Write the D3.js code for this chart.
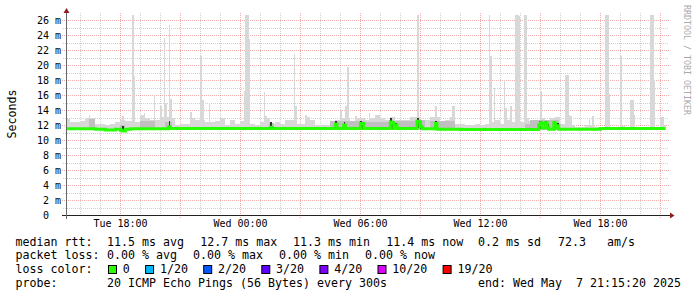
<!DOCTYPE html>
<html>
<head>
<meta charset="utf-8">
<script src="https://cdn.jsdelivr.net/npm/d3@7"></script>
<style>
  body { margin: 0; background: #fff; }
  svg text { font-family: "DejaVu Sans Mono", monospace; white-space: pre; }
</style>
</head>
<body>
<div id="chart"></div>
<script>
var width = 697, height = 297;

var startTime = new Date(2025, 4, 6, 15, 15, 20);
var endTime = new Date(2025, 4, 7, 21, 15, 20);
var parseT = d3.timeParse('%Y-%m-%d %H:%M');
function t(s) { return parseT('2025-' + s); }

// upper edge of the normal smoke, one value per 15 min starting 15:15
var smokeTop = [
  12.8, 12.4, 12.4, 12.6, 13.0, 12.9, 12.2, 12.1, 12.0, 12.2, 12.4, 12.7,
  12.6, 12.6, 12.4, 13.3, 12.9, 12.7, 12.7, 13.1, 13.1, 12.9, 12.0, 12.2,
  12.2, 13.0, 12.7, 12.7, 12.4, 12.4, 12.6, 12.9, 12.0, 12.7, 12.2, 12.6,
  12.2, 12.2, 12.0, 12.4, 12.9, 12.2, 12.4, 12.2, 12.7, 12.7, 12.2, 12.2,
  13.1, 12.7, 12.0, 12.0, 12.0, 12.2, 12.7, 13.0, 12.9, 12.4, 12.9, 12.9,
  12.7, 12.9, 13.3, 12.9, 12.7, 13.1, 12.7, 12.7, 12.7, 13.1, 13.1, 12.7,
  12.7, 13.1, 13.1, 12.2, 12.7, 13.1, 12.2, 12.2, 12.0, 12.0, 12.2, 12.0,
  12.2, 12.4, 12.7, 12.2, 12.7, 12.4, 12.6, 12.4, 12.6, 12.2, 12.4, 12.9,
  12.6, 12.9, 13.1, 12.2, 12.0, 12.0, 11.8, 11.8, 12.0, 12.0, 11.8, 11.8,
  11.9, 11.8, 11.8, 11.9, 11.8, 12.0, 11.8, 11.8, 11.8, 11.9, 11.8, 12.0
];
var smokeFloor = 11.3;

// medium grey smoke: [from, to, top ms]
var midSmoke = [
  ['05-06 16:25', '05-06 16:45', 12.8],
  ['05-06 18:00', '05-06 18:15', 12.0],
  ['05-06 19:00', '05-06 19:45', 12.6],
  ['05-06 20:15', '05-06 20:35', 12.4],
  ['05-07 01:25', '05-07 01:40', 12.3],
  ['05-07 04:30', '05-07 06:15', 12.5],
  ['05-07 06:15', '05-07 07:30', 12.4],
  ['05-07 07:30', '05-07 08:45', 12.5],
  ['05-07 08:45', '05-07 09:15', 12.7],
  ['05-07 09:30', '05-07 10:45', 12.5],
  ['05-07 14:15', '05-07 14:30', 12.2],
  ['05-07 14:30', '05-07 15:55', 12.7]
];

// max ping of single 5 min samples that stick out of the smoke
var spikes = [
  ['05-06 16:25', 13.3], ['05-06 18:05', 13.2], ['05-06 18:35', 26.7], ['05-06 18:40', 18.5],
  ['05-06 19:10', 13.6], ['05-06 19:40', 16.0], ['05-06 20:00', 14.6], ['05-06 20:10', 23.6],
  ['05-06 20:15', 15.0], ['05-06 20:25', 25.4], ['05-06 20:30', 15.5], ['05-06 21:30', 13.8],
  ['05-06 22:00', 21.2], ['05-06 22:05', 15.4], ['05-06 22:25', 15.0],
  ['05-07 00:10', 16.5], ['05-07 00:15', 26.7], ['05-07 00:20', 26.7], ['05-07 00:25', 23.5],
  ['05-07 01:10', 16.4], ['05-07 01:15', 13.2], ['05-07 02:40', 21.5], ['05-07 02:45', 14.5],
  ['05-07 03:15', 13.4], ['05-07 05:00', 14.0], ['05-07 05:15', 14.5], ['05-07 05:20', 19.8],
  ['05-07 05:45', 13.2], ['05-07 06:25', 13.6], ['05-07 06:50', 13.4], ['05-07 08:50', 26.7],
  ['05-07 09:45', 14.6], ['05-07 10:35', 14.5], ['05-07 10:40', 14.5], ['05-07 12:25', 26.7],
  ['05-07 12:30', 21.2], ['05-07 12:40', 17.0], ['05-07 13:10', 18.0], ['05-07 13:15', 14.3],
  ['05-07 13:30', 14.5], ['05-07 13:45', 26.7], ['05-07 13:50', 26.7], ['05-07 13:55', 26.5],
  ['05-07 14:10', 26.7], ['05-07 14:15', 26.7], ['05-07 14:20', 12.9], ['05-07 15:00', 16.6],
  ['05-07 15:05', 13.0], ['05-07 16:15', 18.7], ['05-07 16:20', 18.7], ['05-07 16:25', 13.4],
  ['05-07 16:30', 13.2], ['05-07 17:25', 13.0], ['05-07 17:35', 13.2], ['05-07 18:15', 26.7],
  ['05-07 18:20', 26.7], ['05-07 18:25', 16.1], ['05-07 19:00', 21.2], ['05-07 19:30', 15.3],
  ['05-07 19:35', 15.3], ['05-07 19:40', 13.3], ['05-07 20:30', 26.7], ['05-07 20:35', 26.7],
  ['05-07 20:40', 18.0], ['05-07 21:00', 13.1], ['05-07 21:05', 13.1]
];

// dense (dark) smoke of single samples: [time, low, high]
var darkSmoke = [
  ['05-06 18:05', 11.2, 11.9], ['05-06 20:25', 11.6, 12.5], ['05-07 01:30', 11.6, 12.4],
  ['05-07 04:45', 11.5, 12.6], ['05-07 05:10', 11.5, 12.4], ['05-07 06:00', 11.5, 12.5],
  ['05-07 06:05', 11.5, 12.3], ['05-07 07:30', 11.5, 13.0], ['05-07 07:35', 11.5, 12.6],
  ['05-07 07:45', 11.5, 12.3], ['05-07 08:50', 11.6, 12.9], ['05-07 08:55', 11.6, 12.7],
  ['05-07 09:00', 11.5, 12.2], ['05-07 09:45', 11.5, 12.5], ['05-07 14:55', 11.5, 12.5],
  ['05-07 15:00', 11.5, 12.6], ['05-07 15:15', 11.5, 12.5], ['05-07 15:20', 11.5, 12.2],
  ['05-07 15:40', 11.5, 12.5], ['05-07 15:50', 11.5, 12.3]
];

// median rtt, value holds until the next entry
var median = [
  ['05-06 15:15', 11.5], ['05-06 16:45', 11.45], ['05-06 17:15', 11.35], ['05-06 17:45', 11.45],
  ['05-06 18:00', 11.3], ['05-06 18:05', 11.2], ['05-06 18:15', 11.45], ['05-06 18:30', 11.5],
  ['05-06 20:25', 11.75], ['05-06 20:30', 11.55], ['05-07 01:30', 11.7], ['05-07 01:35', 11.55],
  ['05-07 04:45', 12.1], ['05-07 04:50', 11.55], ['05-07 05:10', 12.0], ['05-07 05:15', 11.55],
  ['05-07 06:00', 12.2], ['05-07 06:10', 11.55], ['05-07 07:30', 12.4], ['05-07 07:35', 12.3],
  ['05-07 07:40', 11.55], ['05-07 07:45', 12.0], ['05-07 07:50', 11.55], ['05-07 08:50', 12.5],
  ['05-07 08:55', 12.4], ['05-07 09:00', 11.8], ['05-07 09:05', 11.5], ['05-07 09:45', 12.2],
  ['05-07 09:50', 11.45], ['05-07 11:00', 11.4], ['05-07 14:55', 12.0], ['05-07 15:00', 12.3],
  ['05-07 15:05', 11.6], ['05-07 15:15', 12.3], ['05-07 15:20', 11.7], ['05-07 15:25', 11.45],
  ['05-07 15:40', 12.3], ['05-07 15:45', 11.6], ['05-07 15:50', 11.9], ['05-07 15:55', 11.45],
  ['05-07 18:00', 11.55], ['05-07 21:15', 11.55]
];

var yTicks = [0, 2, 4, 6, 8, 10, 12, 14, 16, 18, 20, 22, 24, 26];
var rttStats = ['11.5 ms avg', '12.7 ms max', '11.3 ms min', '11.4 ms now', '0.2 ms sd', '72.3   am/s'];
var lossStats = ['0.00 % avg', '0.00 % max', '0.00 % min', '0.00 % now'];
var lossLabels = ['0', '1/20', '2/20', '3/20', '4/20', '10/20', '19/20'];
var lossColors = ['#26ff00', '#00b8ff', '#0059ff', '#5e00ff', '#7e00ff', '#dd00ff', '#ff0000'];

var x = d3.scaleTime().domain([startTime, endTime]).range([65.5, 665.5]);
var y = d3.scaleLinear().domain([0, 27]).range([215, 12.6]);
var step = 5 * 60 * 1000;

var svg = d3.select('#chart').append('svg')
    .attr('width', width)
    .attr('height', height);

svg.append('rect').attr('width', width).attr('height', height).attr('fill', '#fff');

// grid
var minorCol = 'rgba(120,120,120,0.35)', majorCol = 'rgba(225,60,60,0.42)';
var grid = svg.append('g').attr('fill', 'none').attr('stroke-dasharray', '1,1');
var hours = d3.timeHour.range(d3.timeHour.ceil(startTime), endTime);
grid.selectAll('.vmin')
    .data(hours.filter(function (d) { return d.getHours() % 3 != 0 }))
    .enter().append('line')
    .attr('x1', function (d) { return Math.round(x(d)) + 0.5 })
    .attr('x2', function (d) { return Math.round(x(d)) + 0.5 })
    .attr('y1', 13).attr('y2', 217)
    .attr('stroke', minorCol);
grid.selectAll('.hmin')
    .data(d3.range(1, 27, 2))
    .enter().append('line')
    .attr('x1', 63).attr('x2', 668)
    .attr('y1', function (d) { return Math.round(y(d)) + 0.5 })
    .attr('y2', function (d) { return Math.round(y(d)) + 0.5 })
    .attr('stroke', minorCol);
grid.selectAll('.vmaj')
    .data(hours.filter(function (d) { return d.getHours() % 3 == 0 }))
    .enter().append('line')
    .attr('x1', function (d) { return Math.round(x(d)) + 0.5 })
    .attr('x2', function (d) { return Math.round(x(d)) + 0.5 })
    .attr('y1', 13).attr('y2', 218)
    .attr('stroke', majorCol);
grid.selectAll('.hmaj')
    .data(yTicks.slice(1))
    .enter().append('line')
    .attr('x1', 62).attr('x2', 669)
    .attr('y1', function (d) { return Math.round(y(d)) + 0.5 })
    .attr('y2', function (d) { return Math.round(y(d)) + 0.5 })
    .attr('stroke', majorCol);

// smoke
var plot = svg.append('g').attr('shape-rendering', 'crispEdges');
plot.selectAll('.spike')
    .data(spikes)
    .enter().append('rect')
    .attr('x', function (d) { return x(t(d[0])) })
    .attr('width', function (d) { return x(new Date(+t(d[0]) + step)) - x(t(d[0])) })
    .attr('y', function (d) { return y(d[1]) })
    .attr('height', function (d) { return y(smokeFloor) - y(d[1]) })
    .attr('fill', '#d8d8d8');

var slots = smokeTop.map(function (v, i) {
    return { t: new Date(+startTime - 20000 + i * 15 * 60 * 1000), v: v }
});
slots.push({ t: endTime, v: smokeTop[smokeTop.length - 1] });
var band = d3.area()
    .curve(d3.curveStepAfter)
    .x(function (d) { return Math.max(x(d.t), 66) })
    .y0(y(smokeFloor))
    .y1(function (d) { return y(d.v) });
plot.append('path').datum(slots).attr('d', band).attr('fill', '#d8d8d8');

plot.selectAll('.mid')
    .data(midSmoke)
    .enter().append('rect')
    .attr('x', function (d) { return x(t(d[0])) })
    .attr('width', function (d) { return x(t(d[1])) - x(t(d[0])) })
    .attr('y', function (d) { return y(d[2]) })
    .attr('height', function (d) { return y(smokeFloor) - y(d[2]) })
    .attr('fill', '#c0c0c0');

plot.selectAll('.dark')
    .data(darkSmoke)
    .enter().append('rect')
    .attr('x', function (d) { return x(t(d[0])) })
    .attr('width', function (d) { return x(new Date(+t(d[0]) + step)) - x(t(d[0])) })
    .attr('y', function (d) { return y(d[2]) })
    .attr('height', function (d) { return y(d[1]) - y(d[2]) })
    .attr('fill', '#333');

var medLine = d3.line()
    .curve(d3.curveStepAfter)
    .x(function (d) { return Math.max(x(t(d[0])), 66) })
    .y(function (d) { return y(d[1]) });
svg.append('path').datum(median)
    .attr('d', medLine)
    .attr('fill', 'none')
    .attr('stroke', lossColors[0])
    .attr('stroke-width', 3);

// axes
svg.append('line').attr('x1', 62).attr('x2', 670).attr('y1', 215.5).attr('y2', 215.5).attr('stroke', '#222');
svg.append('line').attr('x1', 66.5).attr('x2', 66.5).attr('y1', 219).attr('y2', 11).attr('stroke', '#666');
svg.append('path').attr('d', 'M670,212.5L674.5,215.5L670,218.5Z').attr('fill', '#8f1f1f');
svg.append('path').attr('d', 'M63.5,13L66.5,8L69.5,13Z').attr('fill', '#8f1f1f');

svg.selectAll('.ylab')
    .data(yTicks)
    .enter().append('text')
    .attr('x', 61).attr('y', function (d) { return Math.round(y(d)) + 4 })
    .attr('text-anchor', 'end')
    .attr('font-size', '10px')
    .attr('fill', '#000')
    .text(function (d) { return d == 0 ? '0  ' : d + ' m' });

svg.selectAll('.xlab')
    .data(hours.filter(function (d) { return d.getHours() % 6 == 0 }))
    .enter().append('text')
    .attr('x', function (d) { return Math.round(x(d)) + 0.5 })
    .attr('y', 227)
    .attr('text-anchor', 'middle')
    .attr('font-size', '10px')
    .text(d3.timeFormat('%a %H:%M'));

svg.append('text')
    .attr('transform', 'translate(15.5,114) rotate(-90)')
    .attr('text-anchor', 'middle')
    .attr('font-size', '11.6px')
    .text('Seconds');

svg.append('text')
    .attr('transform', 'translate(684,5) rotate(90)')
    .attr('font-size', '8.3px')
    .attr('fill', '#aaa')
    .text('RRDTOOL / TOBI OETIKER');

// legend
var fs = '11.63px', cw = 7.0, col = 107, base = 245.5, lh = 13.7;
var leg = svg.append('g').attr('font-size', fs).attr('fill', '#000');

leg.append('text').attr('x', 15.5).attr('y', base).text('median rtt:');
rttStats.forEach(function (s, i) {
    var xs = [107, 200.3, 293, 386.3, 478, 558];
    leg.append('text').attr('x', xs[i]).attr('y', base).text(s);
});

leg.append('text').attr('x', 15.5).attr('y', base + lh).text('packet loss:');
lossStats.forEach(function (s, i) {
    leg.append('text').attr('x', col + i * 86).attr('y', base + lh).text(s);
});

leg.append('text').attr('x', 15.5).attr('y', base + 2 * lh).text('loss color:');
var cur = 108.5;
lossLabels.forEach(function (s, i) {
    leg.append('rect')
        .attr('x', cur).attr('y', 265.5).attr('width', 8).attr('height', 8)
        .attr('fill', lossColors[i]).attr('stroke', '#000');
    leg.append('text').attr('x', cur + 14.3).attr('y', base + 2 * lh).text(s);
    cur = cur + 14.6 + s.length * cw + 15.5;
});

leg.append('text').attr('x', 15.5).attr('y', base + 3 * lh).text('probe:');
leg.append('text').attr('x', col).attr('y', base + 3 * lh).text('20 ICMP Echo Pings (56 Bytes) every 300s');
leg.append('text').attr('x', 681).attr('y', base + 3 * lh).attr('text-anchor', 'end')
    .text('end: Wed May  7 21:15:20 2025');
</script>
</body>
</html>
